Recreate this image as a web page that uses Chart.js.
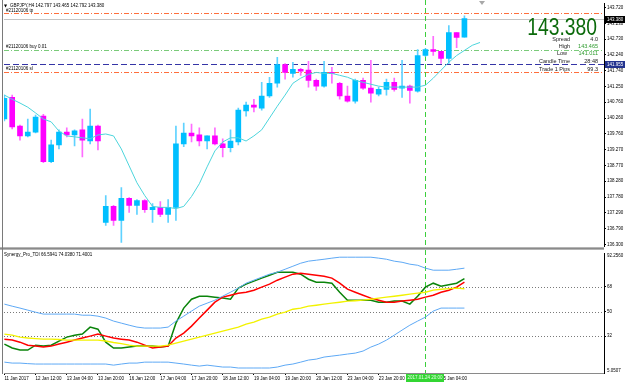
<!DOCTYPE html>
<html><head><meta charset="utf-8">
<script src="https://cdn.jsdelivr.net/npm/chart.js@4.4.1/dist/chart.umd.min.js"></script>
<style>
html,body{margin:0;padding:0;background:#fff;}
#wrap{position:relative;width:625px;height:385px;overflow:hidden;background:#fff;}
.pane{position:absolute;left:0;width:625px;}
canvas{display:block;}
</style></head><body>
<div id="wrap">
<div class="pane" style="top:0;height:250px;"><canvas id="c1" width="625" height="250"></canvas></div>
<div class="pane" style="top:250px;height:135px;"><canvas id="c2" width="625" height="135"></canvas></div>
</div>
<script>
// ---------- DATA ----------
const symbol = 'GBPJPY,H4';
const timeLabels = ['11 Jan 2017','12 Jan 12:00','13 Jan 04:00','13 Jan 20:00','16 Jan 12:00','17 Jan 04:00','17 Jan 20:00','18 Jan 12:00','19 Jan 04:00','19 Jan 20:00','20 Jan 12:00','23 Jan 04:00','23 Jan 20:00','24 Jan 12:00','25 Jan 04:00'];
const timeTickIdx = [0,4,8,12,16,20,24,28,32,36,40,44,48,52,56];
const opens  = [140.23,140.91,140.01,139.70,139.82,140.32,138.89,139.42,139.82,139.73,139.89,139.54,140.01,136.99,137.49,137.05,137.74,137.52,137.67,137.39,137.46,137.24,137.46,139.45,139.79,139.73,139.54,139.70,139.45,139.33,139.51,140.48,140.67,140.57,140.95,141.35,141.94,141.66,141.79,141.76,141.44,141.26,141.69,141.35,140.95,140.79,141.44,141.20,141.01,141.16,141.38,141.20,141.26,141.10,142.22,142.41,142.35,142.13,142.94,142.797];
const highs  = [140.98,140.98,140.04,140.23,140.35,140.38,139.57,139.89,139.95,139.89,140.23,140.54,140.04,137.83,137.52,138.08,137.77,137.70,137.70,137.58,137.64,137.70,140.01,140.10,140.07,139.95,139.70,139.95,139.61,139.89,140.57,140.76,140.85,141.38,141.54,142.16,141.97,142.01,141.82,142.04,141.48,142.04,141.85,141.38,141.26,141.48,141.51,142.07,141.23,141.48,141.51,142.07,141.29,142.41,142.44,142.82,142.35,143.16,142.94,143.465];
const lows   = [140.17,139.92,139.57,139.67,139.79,138.86,138.86,139.29,139.67,139.39,139.04,139.45,139.26,136.89,136.89,136.36,137.30,137.24,137.30,136.99,137.17,136.99,137.05,139.36,139.51,139.39,139.29,139.42,139.04,139.20,139.42,140.32,140.45,140.51,140.91,141.23,141.48,141.54,141.60,141.23,141.13,141.23,141.35,140.85,140.76,140.73,141.16,140.76,140.95,140.98,141.10,140.91,140.73,141.07,142.19,142.22,141.97,141.97,142.47,142.792];
const closes = [140.88,139.98,139.70,139.82,140.29,138.89,139.42,139.82,139.73,139.86,139.57,140.01,139.54,137.49,137.05,137.74,137.52,137.67,137.39,137.46,137.24,137.46,139.45,139.79,139.70,139.54,139.70,139.45,139.33,139.54,140.51,140.67,140.60,140.95,141.35,141.94,141.69,141.79,141.73,141.44,141.26,141.69,141.66,140.95,140.79,141.44,141.20,141.04,141.16,141.38,141.16,141.26,141.13,142.22,142.41,142.35,142.13,142.94,142.79,143.380];
const maLine = [140.98,140.85,140.73,140.60,140.42,140.23,140.14,139.85,139.70,139.67,139.64,139.61,139.73,139.76,139.70,139.29,138.76,138.23,137.83,137.49,137.46,137.46,137.42,137.49,137.80,138.20,138.73,139.23,139.51,139.64,139.64,139.54,139.70,139.89,140.26,140.63,140.98,141.35,141.51,141.63,141.69,141.66,141.66,141.60,141.54,141.44,141.38,141.32,141.26,141.23,141.23,141.23,141.23,141.23,141.29,141.51,141.76,142.01,142.22,142.38,142.54,142.63];
const priceTicks = [143.720,143.230,142.730,142.240,141.740,141.250,140.760,140.260,139.760,139.270,138.770,138.280,137.780,137.290,136.790,136.300];
const priceRange = [136.239, 143.845];
const tpPrice = 143.56, buyPrice = 142.38, slPrice = 141.69, bePrice = 141.955, bidPrice = 143.380;
const orderTag = '#21120106';
const infoRows = [['Spread','4.0'],['High','143.465'],['Low','141.011'],['Candle Time','28:48'],['Trade 1 Pips','99.3']];
const markIndex = 54;
const markLabel = '2017.01.24 20:00';

const tdiName = 'Synergy_Pro_TDI';
const tdiReadout = ['66.5941','74.0380','71.4001'];
const tdiRange = [5.0507, 92.2560];
const tdiLevels = [32, 50, 68];
const tdiUpper = [55.4,53.9,52.5,51.0,49.5,48.1,48.1,48.1,48.1,48.1,47.3,47.3,46.6,45.2,43.0,41.5,40.0,38.6,37.9,37.9,37.9,38.6,43.0,46.6,50.3,53.9,56.1,58.3,61.2,64.1,67.1,70.7,72.9,75.1,77.3,78.7,80.9,83.1,85.3,86.8,87.5,88.2,89.0,89.7,89.7,89.7,89.7,89.7,89.0,88.2,86.8,86.0,84.6,83.8,81.7,80.2,80.2,80.2,80.9,81.7];
const tdiLower = [13.0,12.3,12.3,11.9,11.6,11.6,11.6,11.6,11.6,11.6,11.6,11.6,11.6,11.6,10.8,11.6,12.3,12.3,13.0,13.0,13.0,13.0,12.3,11.6,10.8,10.1,10.8,10.1,9.4,9.4,8.7,8.7,8.7,8.7,8.7,9.4,10.8,11.6,13.0,14.5,15.2,16.7,17.4,18.1,18.9,19.6,21.1,24.0,26.2,29.1,32.7,36.4,40.0,43.0,45.9,50.3,52.5,52.5,52.5,52.5];
const tdiYellow = [33.5,32.7,31.3,30.6,30.2,29.8,29.8,29.5,29.1,29.1,29.1,29.1,29.1,28.4,27.3,26.5,25.4,24.7,24.7,24.7,24.7,25.4,26.9,28.4,29.8,31.3,32.7,34.2,35.7,37.1,38.6,40.8,42.2,44.4,45.9,48.1,49.5,51.7,52.5,53.9,54.6,55.4,56.1,56.8,57.6,57.9,58.3,59.0,59.8,60.5,61.2,61.9,62.7,63.4,64.1,65.6,66.3,66.7,67.1,66.6];
const tdiGreen = [26.2,23.3,21.8,21.8,25.4,24.7,25.4,28.4,31.3,32.7,33.5,38.6,37.1,27.6,23.3,23.3,24.0,24.7,24.7,24.7,24.0,24.7,41.5,52.5,59.0,61.2,61.2,60.5,59.8,59.0,67.1,70.0,72.2,74.4,76.5,78.7,78.7,78.7,77.3,73.6,71.4,71.4,70.7,64.1,58.3,58.3,58.3,58.3,56.8,56.8,57.6,57.6,55.4,61.2,67.8,70.7,68.5,69.6,70.7,74.0];
const tdiRed = [29.8,29.1,27.6,25.4,24.7,24.0,24.7,26.2,27.6,29.1,30.6,32.0,33.5,32.0,30.6,29.8,29.1,27.6,25.4,23.3,24.0,24.7,30.6,34.2,39.3,45.2,51.0,56.8,60.5,61.9,63.4,64.1,65.6,67.8,70.0,72.9,75.1,77.3,78.0,77.3,76.5,75.8,74.4,70.7,66.3,64.1,61.9,59.8,58.3,56.8,56.8,57.6,58.3,59.0,60.5,61.9,64.1,65.6,67.8,71.4];

// ---------- VIEW ----------
const X_MIN = -0.05, X_MAX = 76.9;
const FONT = '"Liberation Sans", Arial, sans-serif';
const UP = '#00bfff', DN = '#ff00ff', UPW = '#5fd2ff', DNW = '#ff6cff';
const idx = opens.map((_, i) => i);
const isUp = i => closes[i] >= opens[i];
const pts = arr => arr.map((v, i) => ({x: i, y: v}));

function hline(ctx, a, py, color, dash, w) {
  py = Math.round(py) + 0.5;
  ctx.save(); ctx.strokeStyle = color; ctx.lineWidth = w || 1; ctx.setLineDash(dash);
  ctx.beginPath(); ctx.moveTo(a.left, py); ctx.lineTo(a.right, py); ctx.stroke(); ctx.restore();
}
function vline(ctx, px, y0, y1, color, dash) {
  px = Math.round(px) + 0.5;
  ctx.save(); ctx.strokeStyle = color; ctx.lineWidth = 1; ctx.setLineDash(dash);
  ctx.beginPath(); ctx.moveTo(px, y0); ctx.lineTo(px, y1); ctx.stroke(); ctx.restore();
}
function axisBox(ctx, a, py, bg, txt) {
  ctx.save(); ctx.fillStyle = bg; ctx.fillRect(a.right + 1, Math.round(py) - 3, 22, 7);
  ctx.fillStyle = '#fff'; ctx.font = '4.5px ' + FONT; ctx.textBaseline = 'middle'; ctx.textAlign = 'left';
  ctx.fillText(txt, a.right + 3, Math.round(py) + 0.5); ctx.restore();
}

const mainDecor = {
  id: 'mainDecor',
  beforeDatasetsDraw(chart) {
    const {ctx, chartArea: a, scales: {x, y}} = chart;
    hline(ctx, a, y.getPixelForValue(bidPrice), '#c4c4c4', []);
    hline(ctx, a, y.getPixelForValue(tpPrice), '#ff6f3c', [5, 2, 1, 2]);
    hline(ctx, a, y.getPixelForValue(buyPrice), '#7acb7a', [5, 2, 1, 2]);
    hline(ctx, a, y.getPixelForValue(bePrice), '#3434a6', [6, 3]);
    hline(ctx, a, y.getPixelForValue(slPrice), '#ff6f3c', [5, 2, 1, 2]);
    vline(ctx, x.getPixelForValue(markIndex), 0, a.bottom, '#3ccf3c', [5, 3]);
  },
  afterDraw(chart) {
    const {ctx, chartArea: a, scales: {y}} = chart;
    ctx.save();
    // separator and borders
    ctx.fillStyle = '#b4b4b4'; ctx.fillRect(0, 247, a.right, 3);
    ctx.fillStyle = '#8a8a8a'; ctx.fillRect(0, 248, a.right, 1);
    ctx.fillStyle = '#7a7a7a'; ctx.fillRect(2, 0, 1, 250);
    // shift marker
    ctx.fillStyle = '#a8a8a8'; ctx.beginPath(); ctx.moveTo(479, 1); ctx.lineTo(485, 1); ctx.lineTo(482, 5); ctx.closePath(); ctx.fill();
    // title
    const last = opens.length - 1;
    ctx.fillStyle = '#000'; ctx.textBaseline = 'middle'; ctx.textAlign = 'left';
    ctx.font = '4px "DejaVu Sans", sans-serif'; ctx.fillText('\u25BC', 4, 5.5);
    ctx.font = '4.5px ' + FONT;
    ctx.fillText(symbol + ' ' + opens[last].toFixed(3) + ' ' + highs[last].toFixed(3) + ' ' + lows[last].toFixed(3) + ' ' + closes[last].toFixed(3), 10, 5.5);
    // order labels
    ctx.textBaseline = 'bottom';
    ctx.fillText(orderTag + ' tp', 6, Math.round(y.getPixelForValue(tpPrice)));
    ctx.fillText(orderTag + ' buy 0.01', 6, Math.round(y.getPixelForValue(buyPrice)) - 1);
    ctx.fillText(orderTag + ' sl', 6, Math.round(y.getPixelForValue(slPrice)) - 1);
    // big price
    ctx.save(); ctx.translate(597, 35); ctx.scale(0.84, 1);
    ctx.font = '23px ' + FONT; ctx.fillStyle = '#0b6a0b'; ctx.textAlign = 'right'; ctx.textBaseline = 'alphabetic';
    ctx.fillText(closes[last].toFixed(3), 0, 0); ctx.restore();
    // info rows
    const rowY = [39.5, 46.5, 53.5, 61.5, 69];
    ctx.font = '5.5px ' + FONT; ctx.textBaseline = 'middle';
    infoRows.forEach((r, k) => {
      ctx.textAlign = 'right'; ctx.fillStyle = '#222';
      ctx.fillText(r[0], k === 2 ? 567 : 570, rowY[k]);
      ctx.fillStyle = (k === 1 || k === 2) ? '#2e9b2e' : '#222';
      ctx.fillText(r[1], 598, rowY[k]);
    });
    // axis boxes
    axisBox(ctx, a, y.getPixelForValue(bidPrice), '#000', closes[last].toFixed(3));
    axisBox(ctx, a, y.getPixelForValue(bePrice), '#23338f', bePrice.toFixed(3));
    ctx.restore();
  }
};

const tdiDecor = {
  id: 'tdiDecor',
  beforeDatasetsDraw(chart) {
    const {ctx, chartArea: a, scales: {x, y}} = chart;
    tdiLevels.forEach(v => hline(ctx, a, y.getPixelForValue(v), '#7a7a7a', [1, 2]));
    vline(ctx, x.getPixelForValue(markIndex), 0, a.bottom, '#3ccf3c', [5, 3]);
  },
  afterDraw(chart) {
    const {ctx, chartArea: a, scales: {x}} = chart;
    ctx.save();
    ctx.fillStyle = '#7a7a7a'; ctx.fillRect(2, 0, 1, a.bottom + 1);
    ctx.fillStyle = '#000'; ctx.font = '4.5px ' + FONT; ctx.textAlign = 'left';
    ctx.textBaseline = 'middle';
    ctx.fillText(tdiName + ' ' + tdiReadout.join(' '), 4, 5);
    ctx.textBaseline = 'top'; ctx.fillText(tdiRange[1].toFixed(4), a.right + 3, a.top);
    ctx.textBaseline = 'bottom'; ctx.fillText(tdiRange[0].toFixed(4), a.right + 3, a.bottom);
    // time box
    const px = Math.round(x.getPixelForValue(markIndex));
    ctx.fillStyle = '#33d633'; ctx.fillRect(px - 19, a.bottom + 1, 38, 8);
    ctx.fillStyle = '#eaffea'; ctx.textAlign = 'center'; ctx.textBaseline = 'middle';
    ctx.fillText(markLabel, px, a.bottom + 5);
    ctx.restore();
  }
};

const smallFont = {size: 4.5, family: FONT};

new Chart(document.getElementById('c1'), {
  type: 'bar',
  data: {datasets: [
    {type: 'line', data: pts(maLine), borderColor: '#4dd5dc', borderWidth: 1, pointRadius: 0, tension: 0, order: 1},
    {type: 'bar', data: idx.map(i => ({x: i, y: [lows[i], highs[i]]})), backgroundColor: idx.map(i => isUp(i) ? UPW : DNW), barThickness: 1, grouped: false, borderWidth: 0, order: 3},
    {type: 'bar', data: idx.map(i => ({x: i, y: [opens[i], closes[i]]})), backgroundColor: idx.map(i => isUp(i) ? UP : DN), barThickness: 5, grouped: false, borderWidth: 0, minBarLength: 1, order: 2}
  ]},
  options: {
    responsive: false, animation: false, events: [],
    layout: {padding: {left: 4, top: 3, right: 0, bottom: 3}},
    plugins: {legend: {display: false}, tooltip: {enabled: false}},
    scales: {
      x: {type: 'linear', min: X_MIN, max: X_MAX, offset: false, display: false},
      y: {position: 'right', min: priceRange[0], max: priceRange[1],
          afterBuildTicks: s => { s.ticks = priceTicks.map(v => ({value: v})); },
          afterFit: s => { s.width = 21; },
          ticks: {autoSkip: false, font: smallFont, color: '#000', padding: 1, callback: v => Number(v).toFixed(3)},
          grid: {drawOnChartArea: false, tickLength: 2, color: '#000'},
          border: {color: '#000'}}
    }
  },
  plugins: [mainDecor]
});

const line = (data, color, w) => ({data: pts(data), borderColor: color, borderWidth: w, pointRadius: 0, tension: 0});
new Chart(document.getElementById('c2'), {
  type: 'line',
  data: {datasets: [
    line(tdiUpper, '#5ea9f5', 1),
    line(tdiLower, '#5ea9f5', 1),
    line(tdiYellow, '#f2f200', 1.4),
    line(tdiRed, '#ff0000', 1.5),
    line(tdiGreen, '#0a840a', 1.5)
  ]},
  options: {
    responsive: false, animation: false, events: [],
    layout: {padding: {left: 4, top: 3.5, right: 0, bottom: 0}},
    plugins: {legend: {display: false}, tooltip: {enabled: false}},
    scales: {
      x: {type: 'linear', min: X_MIN, max: X_MAX, offset: false,
          afterBuildTicks: s => { s.ticks = timeTickIdx.map(v => ({value: v})); },
          afterFit: s => { s.height = 12; },
          ticks: {autoSkip: false, maxRotation: 0, minRotation: 0, align: 'start', font: smallFont, color: '#000', padding: 1,
                  callback: (v, i) => timeLabels[i]},
          grid: {drawOnChartArea: false, tickLength: 2, color: '#000'},
          border: {color: '#8a8a8a'}},
      y: {position: 'right', min: tdiRange[0], max: tdiRange[1],
          afterBuildTicks: s => { s.ticks = tdiLevels.map(v => ({value: v})); },
          afterFit: s => { s.width = 21; },
          ticks: {autoSkip: false, font: smallFont, color: '#000', padding: 1, callback: v => String(v)},
          grid: {drawOnChartArea: false, tickLength: 2, color: '#000'},
          border: {color: '#000'}}
    }
  },
  plugins: [tdiDecor]
});
</script>
</body></html>
